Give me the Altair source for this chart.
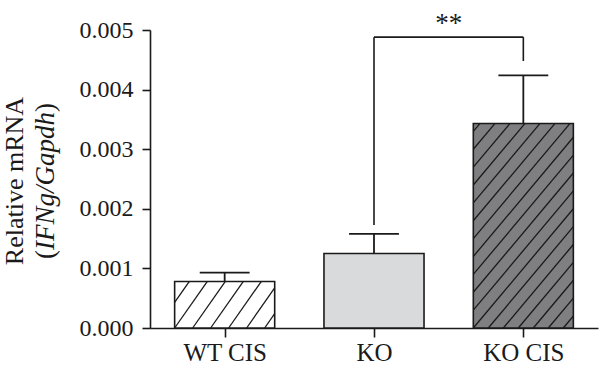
import math
import altair as alt
import pandas as pd

# ---- data ----
categories = ["WT CIS", "KO", "KO CIS"]
positions = [0, 1, 2]
means = [0.00078, 0.00125, 0.00343]
errors = [0.00015, 0.00033, 0.00081]
fills = ["#ffffff", "#d9dadc", "#7f7f81"]
hatch_spacing = [18, 0, 15]      # horizontal spacing of hatch lines (px), 0 = none
hatch_angle = [55, 0, 50]        # degrees
y_ticks = [0.0, 0.001, 0.002, 0.003, 0.004, 0.005]

# significance bracket (KO vs KO CIS)
bracket_from, bracket_to = 1, 2
bracket_y = 0.00488
bracket_left_end = 0.00173
bracket_right_end = 0.00448
bracket_label = "**"

title_line1 = "Relative mRNA"
title_line2 = ["(", "IFNg/Gapdh", ")"]

# ---- layout ----
W, H = 448, 298
X_DOMAIN = [-0.5, 2.5]
Y_DOMAIN = [0, 0.005]
BAR_HALF = 0.335
CAP_HALF = 0.167
PPX = W / (X_DOMAIN[1] - X_DOMAIN[0])
PPY = H / (Y_DOMAIN[1] - Y_DOMAIN[0])
INK = "#1a1a1a"
FONT = "Liberation Serif"

bars = pd.DataFrame({
    "cat": categories,
    "pos": positions,
    "x0": [p - BAR_HALF for p in positions],
    "x1": [p + BAR_HALF for p in positions],
    "mean": means,
    "top": [m + e for m, e in zip(means, errors)],
    "c0": [p - CAP_HALF for p in positions],
    "c1": [p + CAP_HALF for p in positions],
})

# hatch segments clipped to each bar rectangle
rows = []
for p, m, s, a in zip(positions, means, hatch_spacing, hatch_angle):
    if not s:
        continue
    wp = 2 * BAR_HALF * PPX
    hp = m * PPY
    cot = 1 / math.tan(math.radians(a))
    k = math.floor(-hp * cot / s)
    while k * s < wp:
        c = k * s
        v0 = max(0.0, -c / cot)
        v1 = min(hp, (wp - c) / cot)
        if v1 > v0:
            u0, u1 = c + v0 * cot, c + v1 * cot
            rows.append({
                "xa": p - BAR_HALF + u0 / PPX, "xb": p - BAR_HALF + u1 / PPX,
                "ya": v0 / PPY, "yb": v1 / PPY,
            })
        k += 1
hatch = pd.DataFrame(rows)

bracket = pd.DataFrame({
    "xa": [bracket_from, bracket_from, bracket_to],
    "xb": [bracket_from, bracket_to, bracket_to],
    "ya": [bracket_left_end, bracket_y, bracket_right_end],
    "yb": [bracket_y, bracket_y, bracket_y],
})
star = pd.DataFrame({"x": [(bracket_from + bracket_to) / 2], "y": [bracket_y + 0.00008], "t": [bracket_label]})

label_expr = "[" + ",".join(f"'{c}'" for c in categories) + "][datum.value]"

xs = alt.Scale(domain=X_DOMAIN, nice=False, zero=False)
ys = alt.Scale(domain=Y_DOMAIN, nice=False)

x_axis = alt.Axis(values=positions, labelExpr=label_expr, title=None, grid=False,
                  domainColor=INK, domainWidth=1.6, tickColor=INK, tickWidth=1.6,
                  tickSize=9, labelFont=FONT, labelFontSize=25, labelColor=INK,
                  labelPadding=3)
y_axis = alt.Axis(values=y_ticks, format=".3f", title=None, grid=False,
                  domainColor=INK, domainWidth=1.6, tickColor=INK, tickWidth=1.6,
                  tickSize=8, labelFont=FONT, labelFontSize=24, labelColor=INK,
                  labelPadding=9)

base = alt.Chart(bars)

fill_layer = base.mark_rect(strokeWidth=0).encode(
    x=alt.X("x0:Q", scale=xs, axis=x_axis),
    x2="x1:Q",
    y=alt.Y("mean:Q", scale=ys, axis=y_axis),
    y2=alt.datum(0),
    fill=alt.Fill("cat:N", scale=alt.Scale(domain=categories, range=fills), legend=None),
)

hatch_layer = alt.Chart(hatch).mark_rule(color=INK, strokeWidth=1.3).encode(
    x=alt.X("xa:Q", scale=xs), x2="xb:Q",
    y=alt.Y("ya:Q", scale=ys), y2="yb:Q",
)

outline_layer = base.mark_rect(fillOpacity=0, stroke=INK, strokeWidth=1.6).encode(
    x=alt.X("x0:Q", scale=xs), x2="x1:Q",
    y=alt.Y("mean:Q", scale=ys), y2=alt.datum(0),
)

err_v = base.mark_rule(color=INK, strokeWidth=1.8).encode(
    x=alt.X("pos:Q", scale=xs), y=alt.Y("mean:Q", scale=ys), y2="top:Q",
)
err_cap = base.mark_rule(color=INK, strokeWidth=1.8).encode(
    x=alt.X("c0:Q", scale=xs), x2="c1:Q", y=alt.Y("top:Q", scale=ys),
)

bracket_layer = alt.Chart(bracket).mark_rule(color=INK, strokeWidth=1.6).encode(
    x=alt.X("xa:Q", scale=xs), x2="xb:Q",
    y=alt.Y("ya:Q", scale=ys), y2="yb:Q",
)
star_layer = alt.Chart(star).mark_text(font=FONT, fontSize=27, color=INK,
                                       baseline="alphabetic", align="center").encode(
    x=alt.X("x:Q", scale=xs), y=alt.Y("y:Q", scale=ys), text="t:N",
)

# y-axis title: two rotated lines, second with italic gene names and upright parentheses
T1_SIZE, T2_SIZE = 26, 27
yc = H / 2 + 2
title1 = alt.Chart(pd.DataFrame({"t": [title_line1]})).mark_text(
    font=FONT, fontSize=T1_SIZE, color=INK, angle=270, align="center", baseline="alphabetic"
).encode(x=alt.value(-127), y=alt.value(yc), text="t:N")

paren_w = 0.333 * T2_SIZE
mid_w = 5.111 * T2_SIZE
half_len = (2 * paren_w + mid_w) / 2
t2_x = -96
open_p = alt.Chart(pd.DataFrame({"t": [title_line2[0]]})).mark_text(
    font=FONT, fontSize=T2_SIZE, color=INK, angle=270, align="left", baseline="alphabetic"
).encode(x=alt.value(t2_x), y=alt.value(yc + half_len), text="t:N")
mid = alt.Chart(pd.DataFrame({"t": [title_line2[1]]})).mark_text(
    font=FONT, fontSize=T2_SIZE, fontStyle="italic", color=INK, angle=270, align="center",
    baseline="alphabetic"
).encode(x=alt.value(t2_x), y=alt.value(yc), text="t:N")
close_p = alt.Chart(pd.DataFrame({"t": [title_line2[2]]})).mark_text(
    font=FONT, fontSize=T2_SIZE, color=INK, angle=270, align="right", baseline="alphabetic"
).encode(x=alt.value(t2_x), y=alt.value(yc - half_len), text="t:N")

chart = alt.layer(
    fill_layer, hatch_layer, outline_layer, err_v, err_cap, bracket_layer, star_layer,
    title1, open_p, mid, close_p,
).properties(
    width=W, height=H,
    padding={"left": 150, "top": 30, "right": 2, "bottom": 48},
    autosize=alt.AutoSizeParams(type="none"),
    background="white",
).configure_view(stroke=None)

chart.save("out.html", embed_options={"renderer": "svg", "actions": False})
